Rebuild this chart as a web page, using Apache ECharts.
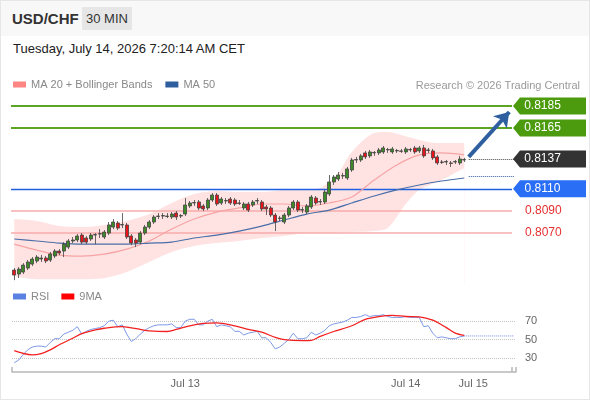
<!DOCTYPE html>
<html>
<head>
<meta charset="utf-8">
<script src="https://cdn.jsdelivr.net/npm/echarts@6/dist/echarts.min.js"></script>
<style>
html, body { margin: 0; padding: 0; background: #fff; }
body { width: 590px; height: 400px; overflow: hidden; position: relative; font-family: "Liberation Sans", Arial, sans-serif; }
#head { position: absolute; left: 0; top: 0; width: 590px; height: 36px; background: #f8f8f8; }
#pair { position: absolute; left: 12px; top: 10px; font-size: 15px; font-weight: bold; color: #333; }
#tf { position: absolute; left: 82px; top: 7px; width: 50px; height: 23px; line-height: 23px; text-align: center; background: #e6e6e6; font-size: 13px; color: #333; }
#date { position: absolute; left: 13px; top: 41px; font-size: 13px; color: #222; }
#frame { position: absolute; left: 0; top: 0; width: 588px; height: 398px; border: 1px solid #e6e6e6; }
#chart { position: absolute; left: 0; top: 0; width: 590px; height: 400px; }
</style>
</head>
<body>
<div id="head"></div>
<div id="pair">USD/CHF</div>
<div id="tf">30 MIN</div>
<div id="date">Tuesday, July 14, 2026 7:20:14 AM CET</div>
<div id="frame"></div>
<div id="chart"></div>
<script>
var FONT = 'Liberation Sans, Arial, sans-serif';

// 30 min slots (101 candles + room on the right)
var slotCount = 112;
var tickIndex = [38, 87, 102];
var tickLabels = ['Jul 13', 'Jul 14', 'Jul 15'];

// [open, close, low, high]
var candles = [
	[0.80365,0.80320,0.80274,0.80383],[0.80329,0.80374,0.80293,0.80392],[0.80347,0.80410,0.80329,0.80428],
	[0.80383,0.80438,0.80365,0.80456],[0.80419,0.80465,0.80401,0.80483],[0.80447,0.80483,0.80428,0.80501],
	[0.80465,0.80474,0.80438,0.80501],[0.80474,0.80447,0.80428,0.80492],[0.80456,0.80510,0.80438,0.80528],
	[0.80492,0.80537,0.80474,0.80555],[0.80537,0.80519,0.80501,0.80555],[0.80537,0.80600,0.80483,0.80618],
	[0.80573,0.80628,0.80555,0.80646],[0.80628,0.80637,0.80609,0.80664],[0.80637,0.80673,0.80618,0.80691],
	[0.80682,0.80618,0.80600,0.80700],[0.80655,0.80618,0.80600,0.80673],[0.80646,0.80682,0.80628,0.80700],
	[0.80682,0.80686,0.80600,0.80700],[0.80691,0.80695,0.80655,0.80736],[0.80664,0.80709,0.80646,0.80727],
	[0.80700,0.80773,0.80682,0.80800],[0.80754,0.80800,0.80736,0.80827],[0.80791,0.80745,0.80727,0.80809],
	[0.80773,0.80777,0.80745,0.80881],[0.80773,0.80664,0.80646,0.80791],[0.80673,0.80609,0.80591,0.80691],
	[0.80637,0.80609,0.80573,0.80655],[0.80618,0.80700,0.80600,0.80718],[0.80700,0.80754,0.80682,0.80773],
	[0.80754,0.80800,0.80736,0.80818],[0.80800,0.80845,0.80782,0.80863],[0.80850,0.80854,0.80827,0.80881],
	[0.80854,0.80858,0.80827,0.80881],[0.80850,0.80854,0.80836,0.80881],[0.80845,0.80872,0.80827,0.80890],
	[0.80881,0.80845,0.80818,0.80899],[0.80854,0.80858,0.80836,0.80872],[0.80872,0.80954,0.80854,0.81017],
	[0.80945,0.80972,0.80927,0.80990],[0.80972,0.80976,0.80945,0.80999],[0.80981,0.80927,0.80908,0.80999],
	[0.80945,0.80918,0.80899,0.80963],[0.80927,0.80999,0.80908,0.81017],[0.80999,0.81044,0.80981,0.81062],
	[0.81044,0.80963,0.80945,0.81062],[0.80972,0.81008,0.80954,0.81026],[0.80990,0.80994,0.80963,0.81017],
	[0.81008,0.80972,0.80954,0.81026],[0.80999,0.80963,0.80945,0.81017],[0.80972,0.80968,0.80954,0.80999],
	[0.80927,0.80963,0.80908,0.80981],[0.80963,0.80908,0.80890,0.80981],[0.80954,0.80981,0.80936,0.80999],
	[0.80990,0.80994,0.80963,0.81017],[0.80981,0.80918,0.80899,0.80999],[0.80936,0.80918,0.80863,0.80954],
	[0.80927,0.80863,0.80845,0.80945],[0.80863,0.80800,0.80718,0.80881],[0.80836,0.80832,0.80809,0.80854],
	[0.80800,0.80863,0.80782,0.80881],[0.80863,0.80927,0.80845,0.80945],[0.80927,0.80981,0.80908,0.80999],
	[0.80981,0.80908,0.80890,0.80999],[0.80908,0.80912,0.80881,0.80936],[0.80890,0.80945,0.80872,0.80963],
	[0.80936,0.81026,0.80918,0.81044],[0.81017,0.80972,0.80954,0.81035],[0.80981,0.80985,0.80954,0.81008],
	[0.80981,0.81071,0.80963,0.81090],[0.81053,0.81162,0.81035,0.81225],[0.81162,0.81207,0.81135,0.81225],
	[0.81189,0.81225,0.81171,0.81253],[0.81216,0.81220,0.81189,0.81244],[0.81198,0.81280,0.81180,0.81298],
	[0.81271,0.81361,0.81253,0.81380],[0.81361,0.81365,0.81334,0.81389],[0.81361,0.81398,0.81343,0.81416],
	[0.81425,0.81389,0.81370,0.81443],[0.81398,0.81434,0.81380,0.81452],[0.81425,0.81429,0.81398,0.81443],
	[0.81425,0.81452,0.81407,0.81470],[0.81434,0.81470,0.81416,0.81488],[0.81452,0.81456,0.81425,0.81470],
	[0.81434,0.81461,0.81416,0.81479],[0.81443,0.81447,0.81425,0.81461],[0.81443,0.81439,0.81425,0.81461],
	[0.81434,0.81461,0.81416,0.81479],[0.81452,0.81456,0.81434,0.81470],[0.81470,0.81434,0.81416,0.81488],
	[0.81443,0.81470,0.81425,0.81488],[0.81470,0.81398,0.81380,0.81497],[0.81452,0.81448,0.81425,0.81470],
	[0.81443,0.81380,0.81361,0.81461],[0.81389,0.81334,0.81316,0.81407],[0.81343,0.81339,0.81325,0.81361],
	[0.81343,0.81347,0.81316,0.81361],[0.81334,0.81330,0.81298,0.81352],[0.81343,0.81347,0.81325,0.81361],
	[0.81334,0.81370,0.81316,0.81398],[0.81361,0.81365,0.81343,0.81380]
];

// Bollinger band edges, MA 20, MA 50 : [slot, price]
var bandUpper = [[0,0.80827],[5,0.80809],[10,0.80763],[15,0.80754],[20,0.80773],[25,0.80809],[30,0.80872],
	[35,0.80972],[40,0.81053],[45,0.81081],[50,0.81071],[55,0.81071],[60,0.81090],[65,0.81095],[68,0.81108],
	[72,0.81244],[75,0.81434],[80,0.81606],[83,0.81615],[86,0.81588],[90,0.81543],[94,0.81515],[100,0.81515]];
var bandLower = [[0,0.80310],[5,0.80283],[10,0.80283],[15,0.80283],[20,0.80292],[25,0.80347],[30,0.80438],
	[35,0.80528],[40,0.80582],[45,0.80609],[50,0.80628],[55,0.80655],[60,0.80673],[65,0.80700],[70,0.80700],
	[75,0.80709],[80,0.80718],[83,0.80745],[87,0.80963],[90,0.81090],[95,0.81180],[100,0.81289]];
var ma20 = [[0,0.80600],[5,0.80546],[10,0.80501],[15,0.80492],[20,0.80510],[25,0.80555],[30,0.80628],
	[35,0.80736],[40,0.80827],[45,0.80890],[50,0.80927],[55,0.80963],[60,0.80963],[65,0.80945],[70,0.80972],
	[75,0.81026],[80,0.81180],[85,0.81316],[90,0.81407],[95,0.81425],[100,0.81407]];
var ma50 = [[0,0.80646],[5,0.80628],[10,0.80609],[15,0.80600],[20,0.80600],[25,0.80600],[30,0.80609],
	[35,0.80618],[40,0.80655],[45,0.80682],[50,0.80718],[55,0.80763],[60,0.80818],[65,0.80872],[70,0.80908],
	[75,0.80972],[80,0.81035],[85,0.81090],[90,0.81135],[95,0.81171],[100,0.81198]];

// levels on the right
var boxLevels = [0.8185, 0.8165, 0.8137, 0.8110];
var boxLabels = ['0.8185', '0.8165', '0.8137', '0.8110'];
var redLevels = [0.8090, 0.8070];
var redLabels = ['0.8090', '0.8070'];
var ma50Last = 0.8121;
var arrowFrom = 0.8139;
var arrowTo = 0.81795;

// RSI and its 9 period MA
var rsi = [25,28,34,39,42,43,43,42,47,51, 51,56,58,60,64,56,59,61,62,63, 65,70,71,64,66,56,48,51,56,60,
	63,65,66,66,66,67,63,63,70,72, 72,66,66,70,72,64,66,65,64,59, 59,55,57,58,59,52,52,47,40,42,
	46,50,57,51,51,52,58,55,57,60, 65,67,68,69,71,74,74,75,77,75, 76,76,77,75,74,74,74,75,74,74,
	74,64,65,57,52,53,52,51,51,53, 54];
var rsiMa = [[0,38],[2,35],[4,33.5],[6,35],[8,39],[10,44.5],[13,51.5],[15,56.5],[18,60.5],[20,62.3],[24,64],
	[25,63.5],[28,61],[30,59.5],[34,58.8],[36,61],[39,65],[42,67.5],[45,68.2],[49,65],[52,61.2],[55,58],
	[58,52.5],[60,50],[64,49],[66,49.2],[68,53.5],[71,58.8],[75,65],[78,72],[81,75],[84,76.3],[87,75],
	[90,74.6],[93,71],[96,63],[98,57],[100,54.5]];
var rsiLast = 54;
var rsiLevels = [70, 50, 30];

var categories = [];
for (var i = 0; i < slotCount; i++) {
	categories.push('s' + i);
}
function tickText(idx) {
	var k = tickIndex.indexOf(idx);
	return k < 0 ? '' : tickLabels[k];
}

var lastSlot = candles.length;      // first empty slot after the candles
var endSlot = slotCount - 1;

var chart = echarts.init(document.getElementById('chart'));

// horizontal levels
var levelLines = [];
var levelStyles = [
	{ type: 'solid', color: '#5ca523', width: 2 },
	{ type: 'solid', color: '#5ca523', width: 2 },
	null,
	{ type: 'solid', color: '#1f5fe0', width: 1.3 }
];
for (var i = 0; i < boxLevels.length; i++) {
	if (!levelStyles[i]) continue;
	levelLines.push([
		{ coord: [0, boxLevels[i]], x: 11, lineStyle: levelStyles[i], label: { show: false } },
		{ coord: [endSlot, boxLevels[i]], x: 512 }
	]);
}
for (var i = 0; i < redLevels.length; i++) {
	levelLines.push([
		{ coord: [0, redLevels[i]], x: 11, lineStyle: { type: 'solid', color: '#f7abab', width: 1.5 },
			label: { show: true, position: 'end', distance: 13, color: '#e53030', fontSize: 12, fontFamily: FONT, formatter: redLabels[i] } },
		{ coord: [endSlot, redLevels[i]], x: 512 }
	]);
}

var boxColors = ['#4c9b0e', '#4c9b0e', '#333333', '#2a6ef5'];
var levelBoxes = boxLevels.map(function(v, i) {
	return {
		coord: [endSlot, v],
		x: 549.5,
		symbol: 'path://M0,8.5L7,0L73,0L73,17L7,17Z',
		symbolSize: [73, 17],
		itemStyle: { color: boxColors[i] },
		label: { show: true, position: 'inside', offset: [-7, 0], color: '#fff', fontSize: 12, fontFamily: FONT, formatter: boxLabels[i] }
	};
});

var option = {
	animation: false,
	textStyle: { fontFamily: FONT },
	legend: [{
		left: 8, top: 74, icon: 'rect', itemWidth: 13, itemHeight: 6, itemGap: 13, selectedMode: false,
		textStyle: { color: '#888', fontSize: 11, fontFamily: FONT },
		data: [
			{ name: 'MA 20 + Bollinger Bands', itemStyle: { color: '#ff8585' } },
			{ name: 'MA 50', itemStyle: { color: '#2f5e9e' } }
		]
	}, {
		left: 8, top: 286, icon: 'rect', itemWidth: 13, itemHeight: 6, itemGap: 12, selectedMode: false,
		textStyle: { color: '#888', fontSize: 11, fontFamily: FONT },
		data: [
			{ name: 'RSI', itemStyle: { color: '#5b82e3' } },
			{ name: '9MA', itemStyle: { color: '#ff0000' } }
		]
	}],
	graphic: [{
		type: 'text', right: 10, top: 80,
		style: { text: 'Research © 2026 Trading Central', fill: '#9a9a9a', font: '11px ' + FONT }
	}],
	grid: [
		{ left: 12, top: 96, width: 504, height: 189 },
		{ left: 12, top: 304.5, width: 504, height: 67.5 }
	],
	xAxis: [{
		type: 'category', gridIndex: 0, data: categories, boundaryGap: true, show: false
	}, {
		type: 'category', gridIndex: 1, data: categories, boundaryGap: true,
		axisLine: { lineStyle: { color: '#b8b8b8', width: 1.5 } },
		axisTick: {
			show: true, inside: true, length: 5,
			interval: function(idx) { return idx === 0 || idx === endSlot; },
			lineStyle: { color: '#b8b8b8', width: 1.5 }
		},
		axisLabel: {
			color: '#666', fontSize: 11, margin: 6, fontFamily: FONT,
			interval: function(idx) { return tickIndex.indexOf(idx) >= 0; },
			formatter: function(val, idx) { return tickText(idx); }
		},
		splitLine: { show: false }
	}],
	yAxis: [
		{ type: 'value', gridIndex: 0, min: 0.8023, max: 0.8194, show: false },
		{ type: 'value', gridIndex: 1, min: 15, max: 88, show: false }
	],
	series: [{
		name: 'bandUpper', type: 'line', data: bandUpper, smooth: 0.3, symbol: 'none', silent: true, z: 1,
		lineStyle: { width: 0 }, areaStyle: { color: '#ffe3e3', opacity: 1, origin: 'start' }
	}, {
		name: 'bandLower', type: 'line', data: bandLower, smooth: 0.3, symbol: 'none', silent: true, z: 2,
		lineStyle: { width: 0 }, areaStyle: { color: '#ffffff', opacity: 1, origin: 'start' }
	}, {
		name: 'MA 20 + Bollinger Bands', type: 'line', data: ma20, smooth: 0.3, symbol: 'none', z: 3,
		lineStyle: { color: '#f7a3a3', width: 1.2 }, itemStyle: { color: '#f7a3a3' }
	}, {
		name: 'MA 50', type: 'line', data: ma50, smooth: 0.3, symbol: 'none', z: 3,
		lineStyle: { color: '#4a6ea8', width: 1.2 }, itemStyle: { color: '#4a6ea8' }
	}, {
		name: 'levels', type: 'line', data: [], z: 3, clip: false,
		markLine: { symbol: ['none', 'none'], silent: true, z: 3, data: levelLines },
		markPoint: { silent: true, z: 6, data: levelBoxes }
	}, {
		name: 'USD/CHF', type: 'candlestick', data: candles, barWidth: 3.4, z: 4,
		itemStyle: { color: '#3c8a27', color0: '#e8141a', borderColor: '#444', borderColor0: '#444', borderWidth: 0.8 }
	}, {
		name: 'projection', type: 'line', data: [], z: 6, clip: false,
		markLine: {
			silent: true, symbol: ['none', 'none'], z: 6,
			data: [
				[{ coord: [lastSlot, boxLevels[2]], lineStyle: { type: 'dotted', color: '#444', width: 1 }, label: { show: false } },
					{ coord: [endSlot, boxLevels[2]] }],
				[{ coord: [lastSlot, ma50Last], lineStyle: { type: 'dotted', color: '#2f5e9e', width: 1 }, label: { show: false } },
					{ coord: [endSlot, ma50Last] }],
				[{ coord: [lastSlot, arrowFrom], symbol: 'none', lineStyle: { type: 'solid', color: '#2f5f9f', width: 4 }, label: { show: false } },
					{ coord: [endSlot - 1, arrowTo], symbol: 'arrow', symbolSize: 14 }]
			]
		}
	}, {
		name: 'RSI', type: 'line', xAxisIndex: 1, yAxisIndex: 1, data: rsi, symbol: 'none', z: 3,
		lineStyle: { color: '#7d99e6', width: 1 }, itemStyle: { color: '#7d99e6' },
		markLine: {
			silent: true, symbol: ['none', 'none'], z: 1,
			lineStyle: { type: 'dotted', color: '#c4c4c4', width: 1 },
			label: { position: 'end', distance: 9, color: '#666', fontSize: 11, fontFamily: FONT },
			data: rsiLevels.map(function(v) { return { yAxis: v }; })
		}
	}, {
		name: '9MA', type: 'line', xAxisIndex: 1, yAxisIndex: 1, data: rsiMa, smooth: 0.3, symbol: 'none', z: 4,
		lineStyle: { color: '#f22020', width: 1.3 }, itemStyle: { color: '#f22020' }
	}, {
		name: 'rsiExt', type: 'line', xAxisIndex: 1, yAxisIndex: 1, symbol: 'none', z: 3,
		data: [[lastSlot - 1, rsiLast], [endSlot, rsiLast]],
		lineStyle: { type: 'dotted', color: '#6f8fe0', width: 1 }
	}]
};

chart.setOption(option);
</script>
</body>
</html>
